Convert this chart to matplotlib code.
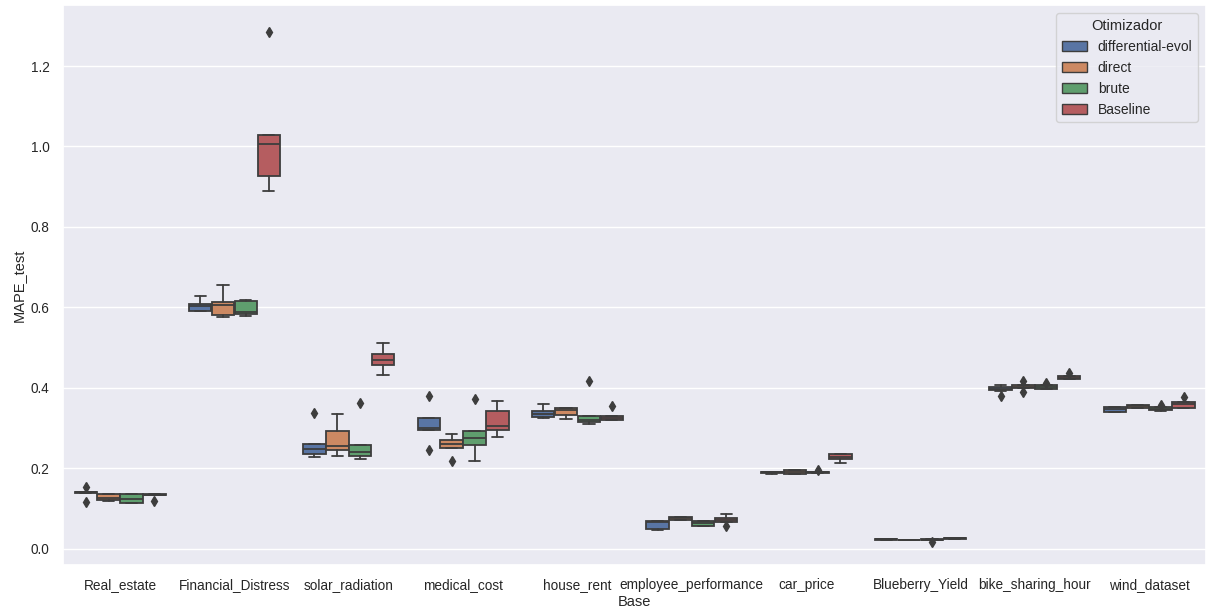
import numpy as np
import matplotlib
matplotlib.use("Agg")
import matplotlib.pyplot as plt
import seaborn as sns
from matplotlib.patches import Patch

sns.set_theme(style="darkgrid")
plt.rcParams["font.family"] = ["Liberation Sans", "DejaVu Sans"]

bases = ["Real_estate", "Financial_Distress", "solar_radiation", "medical_cost",
         "house_rent", "employee_performance", "car_price", "Blueberry_Yield",
         "bike_sharing_hour", "wind_dataset"]
otimizadores = ["differential-evol", "direct", "brute", "Baseline"]

# estatisticas do MAPE_test por base (q1, mediana, q3, bigodes, outliers)
q1 = {
    "differential-evol": [0.139, 0.592, 0.236, 0.294, 0.328, 0.049, 0.188, 0.023, 0.394, 0.341],
    "direct":            [0.120, 0.580, 0.246, 0.251, 0.332, 0.072, 0.186, 0.021, 0.400, 0.350],
    "brute":             [0.114, 0.583, 0.230, 0.257, 0.314, 0.056, 0.189, 0.022, 0.398, 0.344],
    "Baseline":          [0.133, 0.927, 0.456, 0.294, 0.319, 0.066, 0.222, 0.025, 0.421, 0.350],
}
med = {
    "differential-evol": [0.141, 0.603, 0.248, 0.300, 0.335, 0.066, 0.190, 0.024, 0.398, 0.347],
    "direct":            [0.125, 0.606, 0.255, 0.261, 0.344, 0.077, 0.190, 0.022, 0.403, 0.354],
    "brute":             [0.124, 0.588, 0.240, 0.276, 0.321, 0.064, 0.190, 0.023, 0.402, 0.348],
    "Baseline":          [0.134, 1.006, 0.469, 0.306, 0.324, 0.071, 0.228, 0.026, 0.424, 0.360],
}
q3 = {
    "differential-evol": [0.142, 0.609, 0.261, 0.324, 0.342, 0.068, 0.192, 0.025, 0.402, 0.353],
    "direct":            [0.136, 0.613, 0.292, 0.271, 0.350, 0.080, 0.195, 0.023, 0.408, 0.358],
    "brute":             [0.136, 0.616, 0.259, 0.292, 0.329, 0.068, 0.191, 0.024, 0.406, 0.353],
    "Baseline":          [0.135, 1.028, 0.485, 0.342, 0.329, 0.076, 0.235, 0.027, 0.429, 0.365],
}
whislo = {
    "differential-evol": [0.139, 0.592, 0.227, 0.294, 0.326, 0.047, 0.187, 0.023, 0.393, 0.340],
    "direct":            [0.119, 0.576, 0.230, 0.251, 0.323, 0.072, 0.186, 0.021, 0.400, 0.350],
    "brute":             [0.113, 0.578, 0.223, 0.217, 0.309, 0.056, 0.189, 0.022, 0.397, 0.343],
    "Baseline":          [0.133, 0.889, 0.431, 0.278, 0.319, 0.066, 0.212, 0.025, 0.421, 0.349],
}
whishi = {
    "differential-evol": [0.142, 0.628, 0.261, 0.324, 0.360, 0.068, 0.192, 0.025, 0.408, 0.353],
    "direct":            [0.137, 0.656, 0.336, 0.286, 0.350, 0.080, 0.195, 0.023, 0.408, 0.358],
    "brute":             [0.137, 0.619, 0.259, 0.292, 0.329, 0.068, 0.191, 0.024, 0.406, 0.353],
    "Baseline":          [0.135, 1.028, 0.512, 0.368, 0.329, 0.086, 0.235, 0.027, 0.429, 0.366],
}
outliers = {
    "differential-evol": [[0.153, 0.116], [], [0.338], [0.379, 0.246], [], [], [], [], [0.379], []],
    "direct":            [[], [], [], [0.219], [], [], [], [], [0.417, 0.389], []],
    "brute":             [[], [], [0.362], [0.373], [0.416], [], [0.197], [0.018], [0.413], [0.358]],
    "Baseline":          [[0.119], [1.285], [], [], [0.354], [0.056], [], [], [0.436], [0.377]],
}

cores = sns.color_palette("deep", 4)
cores = [sns.desaturate(c, 0.75) for c in cores]
cinza = "#3d3d3d"

fig, ax = plt.subplots(figsize=(12.1, 6.1), dpi=100)
fig.subplots_adjust(left=0.052, right=0.997, top=0.992, bottom=0.074)

largura = 0.8 / len(otimizadores)
for j, otm in enumerate(otimizadores):
    stats = []
    for i in range(len(bases)):
        stats.append({"med": med[otm][i], "q1": q1[otm][i], "q3": q3[otm][i],
                      "whislo": whislo[otm][i], "whishi": whishi[otm][i],
                      "fliers": outliers[otm][i]})
    pos = np.arange(len(bases)) - 0.4 + largura * (j + 0.5)
    ax.bxp(stats, positions=pos, widths=largura * 0.98, patch_artist=True,
           manage_ticks=False,
           boxprops=dict(facecolor=cores[j], edgecolor=cinza, linewidth=1.3),
           medianprops=dict(color=cinza, linewidth=1.3),
           whiskerprops=dict(color=cinza, linewidth=1.3),
           capprops=dict(color=cinza, linewidth=1.3),
           flierprops=dict(marker="d", markerfacecolor=cinza, markeredgecolor=cinza,
                           markersize=5.5))

ax.set_xticks(np.arange(len(bases)))
ax.set_xticklabels(bases, fontsize=9.8)
ax.tick_params(axis="y", labelsize=9.8)
ax.set_xlim(-0.5, len(bases) - 0.5)
ax.set_ylim(-0.04, 1.352)
ax.set_yticks([0.0, 0.2, 0.4, 0.6, 0.8, 1.0, 1.2])
ax.set_xlabel("Base", fontsize=10.5, labelpad=2)
ax.set_ylabel("MAPE_test", fontsize=10.5)
ax.grid(axis="x", visible=False)

handles = [Patch(facecolor=cores[j], edgecolor=cinza, label=otm) for j, otm in enumerate(otimizadores)]
ax.legend(handles=handles, title="Otimizador", loc="upper right", fontsize=10,
          title_fontsize=10.5, handlelength=1.8, borderaxespad=0.6)

fig.savefig("out.png")
